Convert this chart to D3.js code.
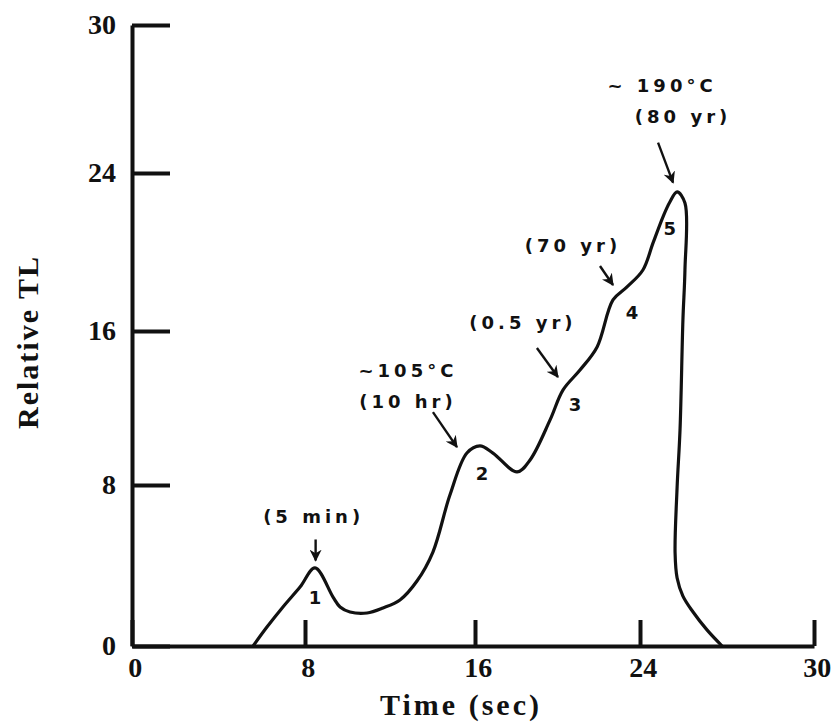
<!DOCTYPE html>
<html>
<head>
<meta charset="utf-8">
<script src="https://cdn.jsdelivr.net/npm/d3@7"></script>
<style>
  body { margin: 0; background: #fff; }
  .tick text { font-family: "Liberation Serif", "Times New Roman", serif; font-weight: bold; font-size: 28px; fill: #111; }
  .note { font-family: "DejaVu Sans", sans-serif; font-weight: bold; font-size: 18px; letter-spacing: 4px; fill: #111; }
  .title { font-family: "Liberation Serif", "Times New Roman", serif; font-weight: bold; font-size: 30px; fill: #111; }
</style>
</head>
<body>
<div class="mainContainer"></div>
<script>
// glow curve
const timeSec = [5.60, 6.24, 6.98, 7.77, 8.47, 9.32, 9.65, 10.12, 10.92, 11.67, 12.47, 13.27, 14.02, 14.82, 15.62, 16.24, 16.87, 18.04, 18.67, 19.64, 20.27, 21.09, 21.92, 22.69, 23.37, 24.10, 24.45, 24.79, 25.03, 25.28, 25.55, 25.55, 25.48, 25.38, 25.28, 25.21, 25.28, 25.48, 25.83, 26.31, 26.83];
const relTL   = [0.00, 0.94, 1.94, 2.93, 3.88, 2.43, 1.94, 1.69, 1.64, 1.89, 2.29, 3.23, 4.67, 7.50, 9.66, 10.03, 9.66, 8.68, 9.30, 11.38, 12.94, 13.97, 15.17, 17.57, 18.23, 19.09, 20.46, 21.77, 22.53, 23.04, 22.48, 19.09, 16.56, 10.86, 7.90, 4.62, 3.38, 2.48, 1.69, 0.80, 0.00];

const xTicks = [0, 8, 16, 24, 30];
const yTicks = [0, 8, 16, 24, 30];

// peak numbers
const peakNames = ['1', '2', '3', '4', '5'];
const peakX = [8.47, 16.34, 20.85, 23.61, 25.03];
const peakY = [2.43, 8.62, 12.16, 16.96, 21.20];

// arrow annotations (tip in data units)
const noteLines = [['(5 min)'], ['~105°C', '(10 hr)'], ['(0.5 yr)'], ['(70 yr)'], ['~ 190°C', '(80 yr)']];
const noteX = [8.50, 15.15, 20.02, 22.69, 25.14];
const noteY = [4.25, 9.97, 13.61, 18.33, 23.51];

let width = 832;
let height = 722;

// the hand drawn axes are not quite even, so the scales are piecewise
let x = d3.scaleLinear().domain(xTicks).range([132, 305, 475, 640, 814]);
let y = d3.scaleLinear().domain(yTicks).range([646, 485, 331, 173, 25]);

let svg = d3.select('.mainContainer')
  .append('svg')
  .attr('width', width)
  .attr('height', height);

svg.append('defs').append('marker')
  .attr('id', 'head')
  .attr('viewBox', '0 0 10 10')
  .attr('refX', 9).attr('refY', 5)
  .attr('markerWidth', 5).attr('markerHeight', 5)
  .attr('orient', 'auto')
  .append('path')
  .attr('d', 'M0,0L10,5L0,10L3,5Z')
  .attr('fill', '#111');

// axes
let yAxis = svg.append('g')
  .attr('transform', 'translate(' + x(0) + ',0)')
  .call(d3.axisLeft(y).tickValues(yTicks).tickSizeInner(-38).tickSizeOuter(0).tickPadding(16).tickFormat(d3.format('d')));

let xAxis = svg.append('g')
  .attr('transform', 'translate(0,' + y(0) + ')')
  .call(d3.axisBottom(x).tickValues(xTicks).tickSizeInner(-26).tickSizeOuter(0).tickPadding(11).tickFormat(d3.format('d')));

[xAxis, yAxis].forEach((g) => {
  g.select('.domain').attr('stroke', '#111').attr('stroke-width', 4);
  g.selectAll('.tick line').attr('stroke', '#111').attr('stroke-width', 4);
});
xAxis.selectAll('.tick text').attr('dx', '0.1em');

// glow curve
const pts = timeSec.map((t, i) => [t, relTL[i]]);
svg.append('path')
  .datum(pts)
  .attr('d', d3.line().x((d) => x(d[0])).y((d) => y(d[1])).curve(d3.curveCatmullRom.alpha(0.5)))
  .attr('fill', 'none')
  .attr('stroke', '#111')
  .attr('stroke-width', 3.2)
  .attr('stroke-linejoin', 'round');

// peak numbers
svg.selectAll('.peak')
  .data(peakNames)
  .enter()
  .append('text')
  .attr('class', 'note')
  .attr('x', (d, i) => x(peakX[i]))
  .attr('y', (d, i) => y(peakY[i]))
  .attr('dy', '0.36em')
  .style('letter-spacing', '0px')
  .style('text-anchor', 'middle')
  .text((d) => d);

// arrows + texts, offsets in px from the tip
const tail = [[0, -21], [-24, -35], [-21, -29], [-13, -19], [-15, -40]];
const textPos = [[-2, -44], [-49, -77], [-35, -54], [-40, -39], [-11, -97]];

noteLines.forEach((lines, i) => {
  let tx = x(noteX[i]), ty = y(noteY[i]);
  svg.append('line')
    .attr('x1', tx + tail[i][0]).attr('y1', ty + tail[i][1])
    .attr('x2', tx).attr('y2', ty)
    .attr('stroke', '#111')
    .attr('stroke-width', 2.4)
    .attr('marker-end', 'url(#head)');
  lines.forEach((s, j) => {
    svg.append('text')
      .attr('class', 'note')
      .attr('x', tx + textPos[i][0] + (j == 1 && i == 4 ? 21 : 0))
      .attr('y', ty + textPos[i][1] + j * 31)
      .attr('dy', '0.36em')
      .style('text-anchor', 'middle')
      .text(s);
  });
});

// axis titles
svg.append('text')
  .attr('class', 'title')
  .attr('x', 461).attr('y', 704)
  .attr('dy', '0.35em')
  .style('text-anchor', 'middle')
  .style('letter-spacing', '3px')
  .text('Time (sec)');

svg.append('text')
  .attr('class', 'title')
  .attr('transform', 'translate(27,342) rotate(-90)')
  .attr('dy', '0.35em')
  .style('text-anchor', 'middle')
  .style('letter-spacing', '2px')
  .text('Relative TL');
</script>
</body>
</html>
